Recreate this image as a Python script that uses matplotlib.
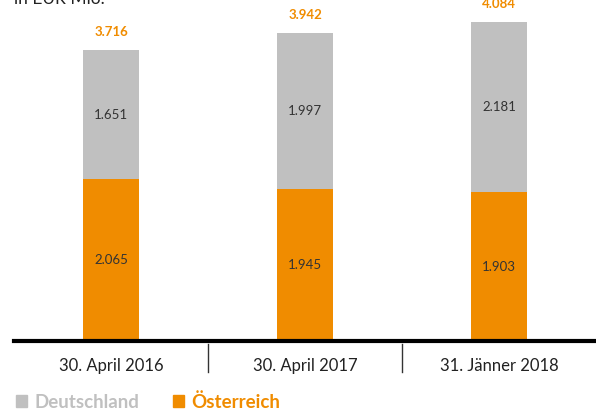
import matplotlib.pyplot as plt
from matplotlib.patches import Patch

# data (EUR Mio.)
categories = ['30. April 2016', '30. April 2017', '31. Jänner 2018']
oesterreich = [2065, 1945, 1903]
deutschland = [1651, 1997, 2181]
totals = ['3.716', '3.942', '4.084']
oe_labels = ['2.065', '1.945', '1.903']
de_labels = ['1.651', '1.997', '2.181']

ORANGE = '#f08c00'
GREY = '#c0c0c0'

plt.rcParams['font.family'] = ['Lato', 'DejaVu Sans']

fig = plt.figure(figsize=(5.96, 4.12), dpi=100)
ax = fig.add_axes([14 / 596, 71 / 412, 582 / 596, 341 / 412])

x = list(range(len(categories)))
w = 0.293
ax.bar(x, oesterreich, width=w, color=ORANGE, zorder=2)
ax.bar(x, deutschland, bottom=oesterreich, width=w, color=GREY, zorder=2)

for i in x:
    ax.text(i, oesterreich[i] / 2, oe_labels[i], ha='center', va='center',
            fontsize=9.5, color='#333333')
    ax.text(i, oesterreich[i] + deutschland[i] / 2, de_labels[i], ha='center',
            va='center', fontsize=9.5, color='#333333')
    ax.annotate(totals[i], (i, oesterreich[i] + deutschland[i]),
                xytext=(0, 13), textcoords='offset points', ha='center',
                va='center', fontsize=9.5, fontweight='bold', color=ORANGE)

ax.set_xlim(-0.5, 2.5)
ax.set_ylim(0, 4360)
ax.axis('off')

# baseline
ax.axhline(0, color='black', lw=3, zorder=3, clip_on=False)

# category labels and separators
tr = ax.get_xaxis_transform()
for i, c in enumerate(categories):
    ax.text(i, -25 / 341, c, transform=tr, ha='center', va='center',
            fontsize=12, color='#222222')
for s in [0.5, 1.5]:
    ax.plot([s, s], [-3 / 341, -31 / 341], transform=tr, color='#333333',
            lw=1, clip_on=False)

fig.text(14 / 596, 1 - 7 / 412, 'in EUR Mio.', ha='left', va='bottom',
         fontsize=12.5, color='#222222')

handles = [Patch(color=GREY), Patch(color=ORANGE)]
fig.legend(handles, ['Deutschland', 'Österreich'], loc='center left',
           bbox_to_anchor=(16 / 596, 10 / 412), ncol=2, frameon=False,
           handlelength=0.6, handleheight=0.6, handletextpad=0.37,
           columnspacing=1.8, borderpad=0, borderaxespad=0,
           prop={'weight': 'bold', 'size': 13.5},
           labelcolor=[GREY, ORANGE])

fig.savefig('out.png', dpi=100)
